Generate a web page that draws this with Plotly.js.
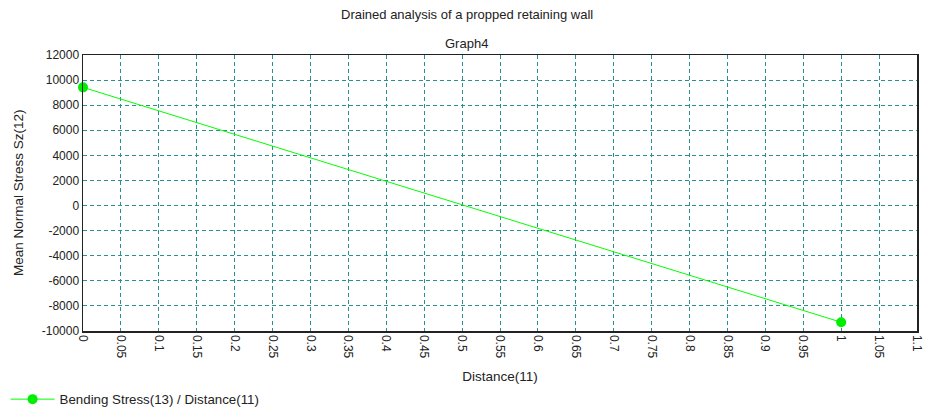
<!DOCTYPE html>
<html><head><meta charset="utf-8">
<script src="https://cdn.plot.ly/plotly-3.0.1.min.js"></script>
<style>html,body{margin:0;padding:0;background:#fff;}#chart{width:931px;height:415px;}</style>
</head><body><div id="chart"></div>
<script>
const distance = [0, 1];
const bendingStress = [9420, -9300];
const xTicks = [0,0.05,0.1,0.15,0.2,0.25,0.3,0.35,0.4,0.45,0.5,0.55,0.6,0.65,0.7,0.75,0.8,0.85,0.9,0.95,1,1.05,1.1];
const yTicks = [-10000,-8000,-6000,-4000,-2000,0,2000,4000,6000,8000,10000,12000];
const fam = 'Liberation Sans, Arial, sans-serif';
const font = {family: fam, size: 12, color: '#222'};
const titleFont = {family: fam, size: 13.5, color: '#222'};
const headFont = {family: fam, size: 13, color: '#222'};
const trace = {
  x: distance, y: bendingStress, mode: 'lines+markers', name: 'Bending Stress(13) / Distance(11)',
  line: {color: '#00ff00', width: 1}, marker: {color: '#00ee00', size: 10}, cliponaxis: false
};
const layout = {
  width: 931, height: 415,
  margin: {l: 83, r: 14, t: 55, b: 84},
  paper_bgcolor: '#fff', plot_bgcolor: '#fff',
  font: font,
  showlegend: true,
  legend: {xref: 'container', yref: 'container', x: 0.006, xanchor: 'left', y: -0.026, yanchor: 'bottom', orientation: 'h',
           font: {family: fam, size: 13.3, color: '#222'}, bgcolor: 'rgba(0,0,0,0)', itemwidth: 44},
  xaxis: {
    range: [0, 1.1], tickvals: xTicks, ticktext: xTicks.map(String), tickangle: 90,
    showline: true, linecolor: '#222', linewidth: 1.5, mirror: true,
    showgrid: true, gridcolor: '#2a9090', griddash: '4px,3px', gridwidth: 1,
    zeroline: false, ticks: '', tickfont: font,
    title: {text: 'Distance(11)', font: titleFont, standoff: 24}
  },
  yaxis: {
    range: [-10000, 12000], tickvals: yTicks, ticktext: yTicks.map(String),
    showline: true, linecolor: '#222', linewidth: 1.5, mirror: true,
    showgrid: true, gridcolor: '#2a9090', griddash: '4px,3px', gridwidth: 1,
    zeroline: false, ticks: '', tickfont: font,
    title: {text: ''}
  },
  annotations: [
    {text: 'Drained analysis of a propped retaining wall', xref: 'paper', yref: 'paper', x: 0.4604, y: 1, yshift: 41, showarrow: false, font: headFont, xanchor: 'center', yanchor: 'middle'},
    {text: 'Graph4', xref: 'paper', yref: 'paper', x: 0.4604, y: 1, yshift: 12, showarrow: false, font: headFont, xanchor: 'center', yanchor: 'middle'},
    {text: 'Mean Normal Stress Sz(12)', xref: 'paper', yref: 'paper', x: 0, y: 0.5, xshift: -65, textangle: -90, showarrow: false, font: titleFont, xanchor: 'center', yanchor: 'middle'}
  ]
};
Plotly.newPlot('chart', [trace], layout, {displayModeBar: false, staticPlot: true});
</script></body></html>
